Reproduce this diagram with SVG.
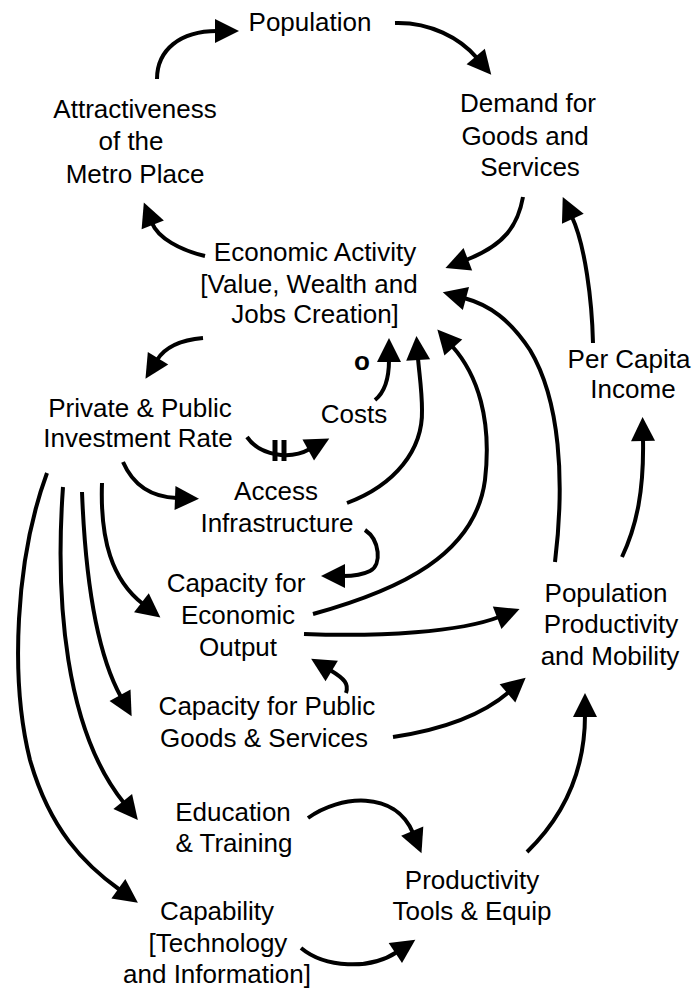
<svg xmlns="http://www.w3.org/2000/svg" width="693" height="990" viewBox="0 0 693 990">
<defs>
<marker id="ah" markerUnits="userSpaceOnUse" markerWidth="26" markerHeight="26" refX="2" refY="12" orient="auto" overflow="visible">
<path d="M0,0 L24,12 L0,24 z" fill="#000"/>
</marker>
<style>
text{font-family:"Liberation Sans",Arial,sans-serif;font-size:26px;fill:#000;text-anchor:middle}
.c{fill:none;stroke:#000;stroke-width:4;marker-end:url(#ah)}
.b{font-weight:bold}
</style>
</defs>
<rect width="693" height="990" fill="#fff"/>
<g id="population"><text x="310" y="31">Population</text></g>
<g id="attractiveness"><text x="135" y="118">Attractiveness</text><text x="131" y="150">of the</text><text x="135" y="183">Metro Place</text></g>
<g id="demand"><text x="528" y="112">Demand for</text><text x="525" y="145">Goods and</text><text x="530" y="176">Services</text></g>
<g id="economic-activity"><text x="315" y="261">Economic Activity</text><text x="309" y="293">[Value, Wealth and</text><text x="315" y="323">Jobs Creation]</text></g>
<g id="investment"><text x="140" y="417">Private &amp; Public</text><text x="138" y="447">Investment Rate</text></g>
<g id="costs"><text x="354" y="423">Costs</text></g>
<g id="per-capita"><text x="629" y="368">Per Capita</text><text x="633" y="398">Income</text></g>
<g id="access"><text x="276" y="500">Access</text><text x="277" y="532">Infrastructure</text></g>
<g id="cap-econ"><text x="236" y="592">Capacity for</text><text x="238" y="624">Economic</text><text x="238" y="656">Output</text></g>
<g id="pop-prod"><text x="606" y="602">Population</text><text x="611" y="633">Productivity</text><text x="610" y="665">and Mobility</text></g>
<g id="cap-public"><text x="267" y="715">Capacity for Public</text><text x="264" y="747">Goods &amp; Services</text></g>
<g id="education"><text x="233" y="821">Education</text><text x="234" y="852">&amp; Training</text></g>
<g id="prod-tools"><text x="472" y="889">Productivity</text><text x="472" y="920">Tools &amp; Equip</text></g>
<g id="capability"><text x="217" y="920">Capability</text><text x="218" y="952">[Technology</text><text x="217" y="983">and Information]</text></g>
<g id="connectors">
<path class="c" d="M157,79 C157,50 180,31 217,31"/>
<path class="c" d="M395,23 C430,22 460,38 477,58"/>
<path class="c" d="M523,197 C518,225 505,245 466,260"/>
<path class="c" d="M593,343 C592,300 585,245 572,217"/>
<path class="c" d="M205,256 C180,250 158,238 152,223"/>
<path class="c" d="M203,338 C180,340 165,347 157,360"/>
<path class="c" d="M375,400 C385,392 389,378 389,360"/>
<path class="c" d="M247,437 C260,456 290,460 310,449"/>
<path class="c" d="M347,503 C395,485 423,450 422,410 C422,390 419,372 418,358"/>
<path class="c" d="M313,614 C400,590 475,555 485,480 C492,420 478,375 452,346"/>
<path class="c" d="M555,562 C565,480 560,400 530,350 C510,320 490,305 464,298"/>
<path class="c" d="M622,557 C637,525 644,490 643,439"/>
<path class="c" d="M304,634 C380,637 460,632 499,617"/>
<path class="c" d="M365,530 C380,540 382,565 370,571 C362,575 352,576 343,576"/>
<path class="c" d="M346,693 C349,684 345,679 330,670"/>
<path class="c" d="M393,737 C440,730 480,717 509,692"/>
<path class="c" d="M527,852 C565,815 585,770 585,715"/>
<path class="c" d="M308,818 C340,795 395,790 413,833"/>
<path class="c" d="M301,948 C325,968 370,970 397,952"/>
<path class="c" d="M123,462 C133,485 150,497 177,498"/>
<path class="c" d="M102,483 C100,540 112,580 143,604"/>
<path class="c" d="M82,492 C85,570 95,650 121,697"/>
<path class="c" d="M63,487 C55,600 65,730 124,803"/>
<path class="c" d="M47,473 C15,560 10,680 30,760 C50,830 85,865 120,890"/>
<line x1="275" y1="440" x2="275" y2="461" stroke="#000" stroke-width="5"/>
<line x1="284" y1="440" x2="284" y2="461" stroke="#000" stroke-width="5"/>
</g>
<g id="polarity"><text class="b" x="362" y="370">o</text></g>
</svg>
